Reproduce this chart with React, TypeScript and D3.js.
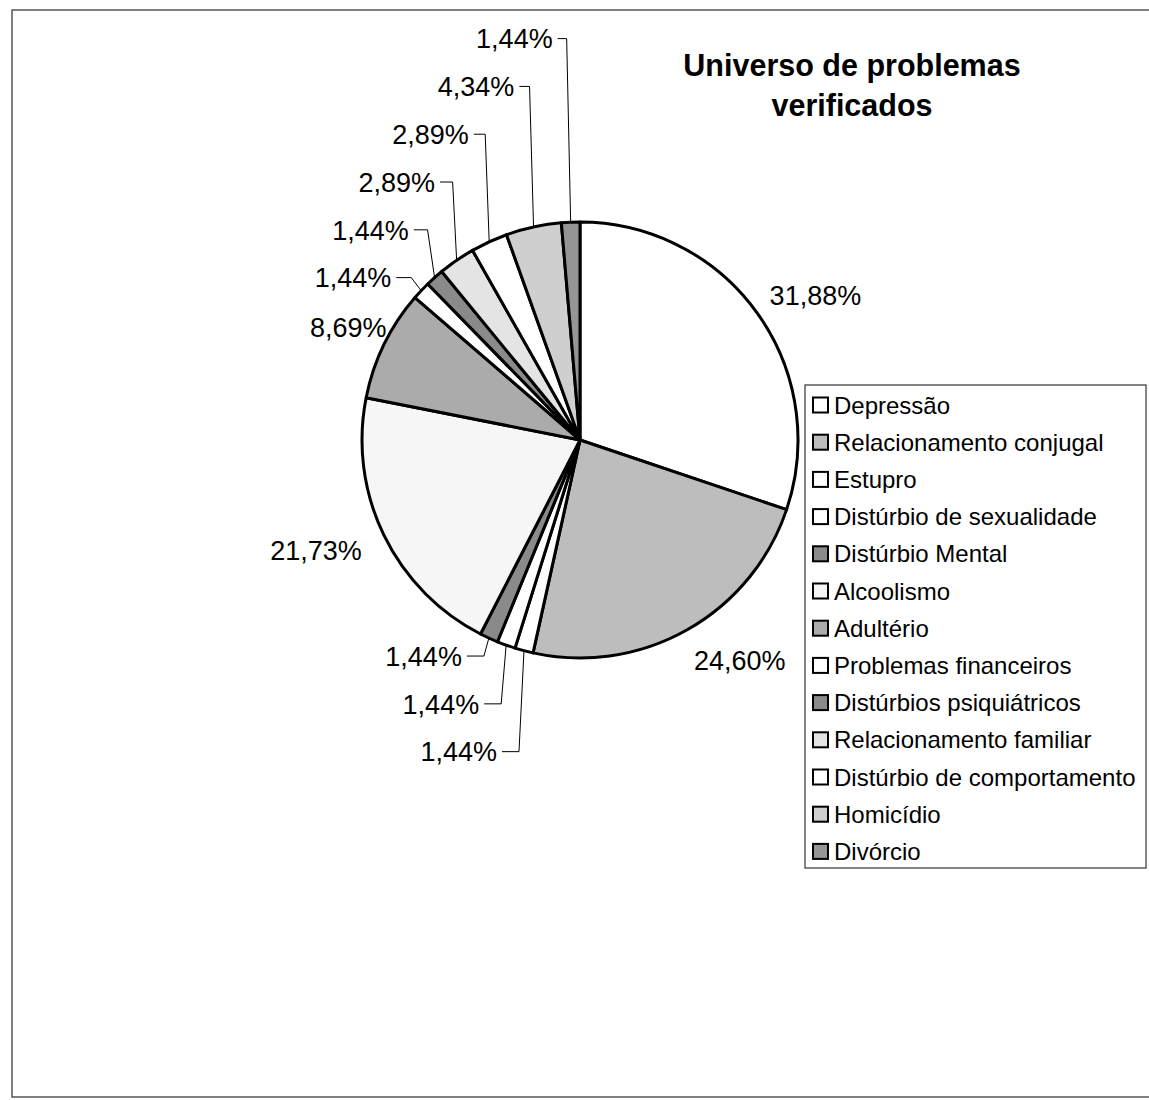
import React from "react";
import * as d3 from "d3";

// data
const categories = [
  "Depressão",
  "Relacionamento conjugal",
  "Estupro",
  "Distúrbio de sexualidade",
  "Distúrbio Mental",
  "Alcoolismo",
  "Adultério",
  "Problemas financeiros",
  "Distúrbios psiquiátricos",
  "Relacionamento familiar",
  "Distúrbio de comportamento",
  "Homicídio",
  "Divórcio",
];
const percents = [31.88, 24.6, 1.44, 1.44, 1.44, 21.73, 8.69, 1.44, 1.44, 2.89, 2.89, 4.34, 1.44];
const percentLabels = ["31,88%", "24,60%", "1,44%", "1,44%", "1,44%", "21,73%", "8,69%", "1,44%", "1,44%", "2,89%", "2,89%", "4,34%", "1,44%"];
const fills = ["#ffffff", "#bdbdbd", "#ffffff", "#ffffff", "#8a8a8a", "#f6f6f6", "#ababab", "#ffffff", "#8a8a8a", "#e4e4e4", "#ffffff", "#cfcfcf", "#959595"];
const titleLines = ["Universo de problemas", "verificados"];

const W = 1149;
const H = 1100;
const cx = 580;
const cy = 440;
const R = 218;
const font = "Arial, 'Liberation Sans', sans-serif";

// Excel's "best fit" moved a few of the outside labels by hand
const labelNudge: Record<string, [number, number]> = {
  "Depressão": [8, 1],
  "Relacionamento conjugal": [22, 3],
  "Alcoolismo": [-12, 1],
  "Adultério": [20, -3],
};

type Row = { name: string; value: number; label: string; fill: string };

export default function App() {
  const rows: Row[] = categories.map((name, i) => ({
    name,
    value: percents[i],
    label: percentLabels[i],
    fill: fills[i],
  }));

  const pie = d3.pie<Row>().sort(null).value((d) => d.value);
  const arcs = pie(rows);
  const arcGen = d3.arc<d3.PieArcDatum<Row>>().innerRadius(0).outerRadius(R);

  const edge = (a: number, r: number) => [cx + r * Math.sin(a), cy - r * Math.cos(a)];

  // label layout: big slices get a label just outside, small ones are stacked with leader lines
  const topGroup = arcs
    .filter((a) => a.data.value < 5 && (a.startAngle + a.endAngle) / 2 > Math.PI * 1.5)
    .sort((a, b) => a.startAngle - b.startAngle);
  const bottomGroup = arcs
    .filter((a) => a.data.value < 5 && (a.startAngle + a.endAngle) / 2 <= Math.PI * 1.5)
    .sort((a, b) => b.startAngle - a.startAngle);

  const labels: { key: string; text: string; x: number; y: number; anchor: string; line?: string }[] = [];

  arcs.forEach((a) => {
    if (a.data.value >= 5) {
      const mid = (a.startAngle + a.endAngle) / 2;
      const dx = Math.sin(mid);
      const dy = -Math.cos(mid);
      const [px, py] = edge(mid, R + 20);
      const [nx, ny] = labelNudge[a.data.name] || [0, 0];
      labels.push({
        key: a.data.name,
        text: a.data.label,
        x: px + dx * 42 + nx,
        y: py + dy * 12 + ny,
        anchor: "middle",
      });
    }
  });

  const stack = (group: d3.PieArcDatum<Row>[], dir: number) => {
    if (!group.length) return;
    const first = edge((group[0].startAngle + group[0].endAngle) / 2, R);
    const y0 = dir < 0 ? first[1] - 13 : first[1] + 18;
    group.forEach((a, i) => {
      const mid = (a.startAngle + a.endAngle) / 2;
      const [ax, ay] = edge(mid, R);
      const y = y0 + dir * i * 47.8;
      const elbow = dir < 0 ? ax - 4 - Math.max(0, 2 - i) * 3 : ax - 5;
      const right = dir < 0 ? elbow - 20 + i * 1.2 : elbow - 22;
      labels.push({
        key: a.data.name,
        text: a.data.label,
        x: right,
        y,
        anchor: "end",
        line: `M${right + 5},${y}L${elbow},${y}L${ax},${ay}`,
      });
    });
  };
  stack(topGroup, -1);
  stack(bottomGroup, 1);

  const legendX = 805;
  const legendY = 385;
  const legendW = 341;
  const legendH = 483;
  const rowH = 37.2;

  return (
    <svg width={W} height={H} style={{ display: "block", position: "absolute", left: 0, top: 0 }}>
      <rect x={0} y={0} width={W} height={H} fill="#fff" />
      <rect x={12} y={10} width={W + 20} height={1087} fill="none" stroke="#555" strokeWidth={1.5} />

      {/* title */}
      <g fontFamily={font} fontWeight="bold" fontSize={30.5} textAnchor="middle" fill="#000">
        {titleLines.map((t, i) => (
          <text key={t} x={852} y={76 + i * 40}>
            {t}
          </text>
        ))}
      </g>

      {/* slices */}
      <g transform={`translate(${cx},${cy})`}>
        {arcs.map((a) => (
          <path key={a.data.name} d={arcGen(a) || ""} fill={a.data.fill} stroke="#000" strokeWidth={3} strokeLinejoin="round" />
        ))}
      </g>

      {/* labels */}
      <g fontFamily={font} fontSize={27} fill="#000">
        {labels.map((l) => (
          <g key={l.key}>
            {l.line && <path d={l.line} fill="none" stroke="#000" strokeWidth={1} />}
            <text x={l.x} y={l.y} dy="0.36em" textAnchor={l.anchor}>
              {l.text}
            </text>
          </g>
        ))}
      </g>

      {/* legend */}
      <rect x={legendX} y={legendY} width={legendW} height={legendH} fill="#fff" stroke="#333" strokeWidth={1.2} />
      <g fontFamily={font} fontSize={24} fill="#000">
        {rows.map((r, i) => {
          const y = legendY + 20 + i * rowH;
          return (
            <g key={r.name}>
              <rect x={813} y={y - 7.5} width={15} height={15} fill={r.fill} stroke="#000" strokeWidth={2} />
              <text x={834} y={y} dy="0.36em">
                {r.name}
              </text>
            </g>
          );
        })}
      </g>
    </svg>
  );
}
